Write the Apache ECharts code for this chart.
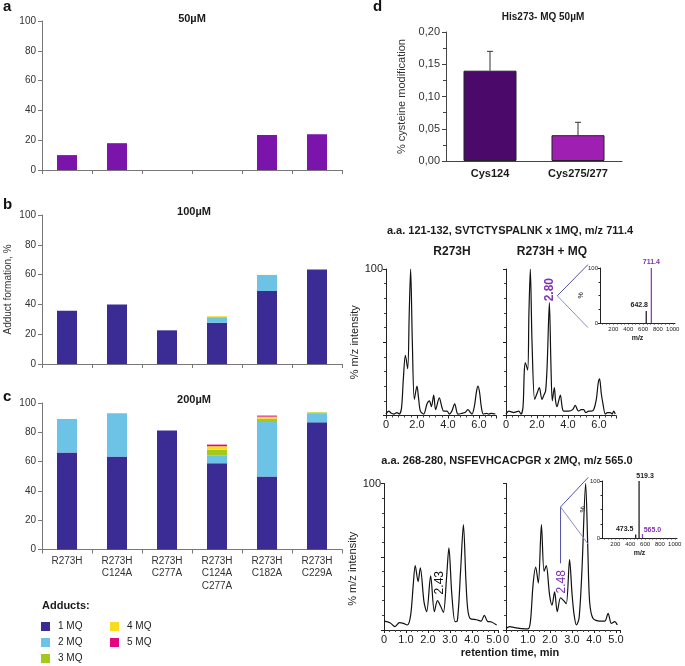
<!DOCTYPE html>
<html><head><meta charset="utf-8">
<script src="https://cdn.jsdelivr.net/npm/echarts@6/dist/echarts.min.js"></script>
<style>html,body{margin:0;padding:0;background:#fff}#c{width:685px;height:666px}</style>
</head><body><div id="c"></div>
<script>
// ---------- data ----------
const mutants = ['R273H', 'R273H\nC124A', 'R273H\nC277A', 'R273H\nC124A\nC277A', 'R273H\nC182A', 'R273H\nC229A'];
const adducts = ['1 MQ', '2 MQ', '3 MQ', '4 MQ', '5 MQ'];
const total50 = [10, 18, 0, 0, 23.5, 24];
const b1MQ = [35.8, 40, 22.6, 27.7, 49, 63.5];
const b2MQ = [0, 0, 0, 3.4, 10.1, 0];
const b3MQ = [0, 0, 0, 0.5, 0.7, 0];
const b4MQ = [0, 0, 0, 0.5, 0, 0];
const b5MQ = [0, 0, 0, 0, 0, 0];
const c1MQ = [66.2, 63.4, 81.2, 58.9, 49.8, 86.8];
const c2MQ = [22.9, 29.6, 0, 5.4, 37.2, 6.2];
const c3MQ = [0, 0, 0, 3.9, 2.3, 0.6];
const c4MQ = [0, 0, 0, 2.3, 1.4, 0];
const c5MQ = [0, 0, 0, 1.1, 0.7, 0];
const cysSites = ['Cys124', 'Cys275/277'];
const cysMod = [0.14, 0.04];
const cysErr = [0.03, 0.02];
// chromatograms: [retention time (min), % intensity]
const traceR273H_711 = [[0,1],[0.17,3],[0.35,1.5],[0.5,1],[0.71,2],[0.86,1],[1.0,5],[1.12,25],[1.25,41],[1.40,32],[1.50,70],[1.59,100],[1.70,50],[1.83,11],[2.0,20],[2.1,12],[2.22,3],[2.43,1],[2.65,8],[2.80,10],[2.93,6],[3.08,14],[3.2,4],[3.44,12],[3.60,6],[3.72,3],[3.94,3],[4.09,1],[4.25,3],[4.43,8],[4.58,2],[4.65,1],[4.91,1.5],[5.1,2],[5.29,4],[5.45,2],[5.55,1],[5.70,6],[5.85,17],[5.94,20],[6.05,15],[6.15,6],[6.28,1],[6.5,1.5],[6.63,1],[6.8,1.5],[7.06,1]];
const traceMQ_711 = [[0,1],[0.17,3],[0.35,2.5],[0.49,2],[0.65,2.5],[0.82,3],[0.97,1],[1.10,6],[1.18,30],[1.25,36],[1.40,31],[1.48,70],[1.57,100],[1.68,50],[1.85,11],[2.0,15],[2.15,19],[2.32,11],[2.45,14],[2.56,17],[2.66,35],[2.80,77],[2.90,35],[2.99,10],[3.12,19],[3.20,10],[3.29,6],[3.40,10],[3.51,14],[3.62,6],[3.72,3],[4.04,3],[4.3,4],[4.47,7],[4.6,4],[4.69,3],[4.85,4],[5.01,4],[5.15,2],[5.33,3],[5.5,3],[5.66,4],[5.83,11],[5.95,22],[6.04,25],[6.15,15],[6.26,8],[6.41,1],[6.55,2],[6.73,2],[6.85,1],[6.95,3],[7.05,1]];
const traceR273H_565 = [[0,6],[0.27,5],[0.5,2.3],[0.70,5],[0.88,4.5],[1.06,3.4],[1.21,10],[1.33,31],[1.42,44],[1.55,33],[1.65,42.5],[1.82,19],[1.94,12.5],[2.12,37],[2.29,12.5],[2.43,20],[2.58,16],[2.70,12],[2.84,35],[2.95,56],[3.08,25],[3.23,5.7],[3.33,6],[3.48,40],[3.61,72],[3.72,35],[3.80,15],[3.91,8],[4.21,7],[4.41,6],[4.56,10],[4.70,6],[4.89,5.5],[5.12,3.4]];
const traceMQ_565 = [[0,1],[0.17,2.3],[0.39,1.6],[0.70,1],[1.0,0.7],[1.11,5.7],[1.23,31],[1.35,43],[1.47,32],[1.61,72],[1.73,40],[1.83,44],[1.98,24],[2.09,17],[2.21,26],[2.33,12.5],[2.48,22],[2.62,20],[2.74,18],[2.89,48],[3.00,25],[3.09,11],[3.20,3.4],[3.32,8],[3.45,40],[3.62,100],[3.72,55],[3.80,19.5],[3.95,8],[4.26,6],[4.49,6],[4.64,11.4],[4.79,4.5],[4.94,5.7],[5.06,3.4]];
// MS insets: [m/z, % intensity]
const ms711 = [[642.8, 22], [711.4, 100]];
const ms565 = [[473.5, 6], [519.3, 100], [565.0, 7]];
const msTicks = [200, 400, 600, 800, 1000];

// ---------- style ----------
const FONT = '"Liberation Sans", Arial, Helvetica, sans-serif';
const adductColors = ['#3a2b95', '#6cc3e6', '#a3c91d', '#f7dc1f', '#e3087f'];
const purple = '#8232b4';
const bSets = [b1MQ, b2MQ, b3MQ, b4MQ, b5MQ];
const cSets = [c1MQ, c2MQ, c3MQ, c4MQ, c5MQ];

function catX(gi, showLabels) {
  return { type: 'category', gridIndex: gi, data: mutants,
    axisLine: { lineStyle: { color: '#777' } },
    axisTick: { show: true, length: 4, lineStyle: { color: '#777' } },
    axisLabel: { show: showLabels, fontSize: 10, color: '#333', lineHeight: 12.5, margin: 5, interval: 0 } };
}
function pctY(gi, name) {
  return { type: 'value', gridIndex: gi, min: 0, max: 100, interval: 20,
    axisLine: { show: true, lineStyle: { color: '#777' } },
    axisTick: { show: true, length: 4, lineStyle: { color: '#777' } },
    axisLabel: { fontSize: 10, color: '#333', margin: 6 }, splitLine: { show: false },
    name: name || '', nameLocation: 'middle', nameGap: 29, nameTextStyle: { fontSize: 10, color: '#333' } };
}
function chromX(gi, max, interval, split) {
  return { type: 'value', gridIndex: gi, min: 0, max: max, interval: interval,
    axisLine: { lineStyle: { color: '#222' } },
    axisTick: { length: 3, lineStyle: { color: '#222' } },
    minorTick: { show: true, splitNumber: split, length: 2, lineStyle: { color: '#444' } },
    axisLabel: { fontSize: 11, color: '#222', margin: 4, showMaxLabel: false,
      formatter: v => v === 0 ? '0' : v.toFixed(1) },
    splitLine: { show: false } };
}
function chromY(gi, labelled, name, pad) {
  return { type: 'value', gridIndex: gi, min: 0, max: 100, interval: 50,
    axisLine: { show: true, lineStyle: { color: '#222' } },
    axisTick: { show: true, length: 3, lineStyle: { color: '#222' } },
    minorTick: { show: true, splitNumber: 5, length: 2, lineStyle: { color: '#444' } },
    axisLabel: { fontSize: 11, color: '#222', margin: 3, formatter: v => (labelled && v === 100) ? '100' : '' },
    splitLine: { show: false },
    name: name || '', nameLocation: 'middle', nameGap: 9,
    nameTextStyle: { fontSize: 11, color: '#222', padding: pad || 0 } };
}
function msX(gi) {
  return { type: 'value', gridIndex: gi, min: 20, max: 1030,
    axisLine: { lineStyle: { color: '#222' } },
    axisTick: { length: 1.5, customValues: [50,100,150,200,250,300,350,400,450,500,550,600,650,700,750,800,850,900,950,1000], lineStyle: { color: '#333' } },
    axisLabel: { fontSize: 6, color: '#222', margin: 3, customValues: msTicks, formatter: v => String(v) },
    splitLine: { show: false },
    name: 'm/z', nameLocation: 'middle', nameGap: 12, nameTextStyle: { fontSize: 7, fontWeight: 'bold', color: '#222' } };
}
function msY(gi) {
  return { type: 'value', gridIndex: gi, min: 0, max: 100, interval: 100,
    axisLine: { show: true, lineStyle: { color: '#222' } },
    axisTick: { show: true, length: 2, lineStyle: { color: '#222' } },
    minorTick: { show: true, splitNumber: 4, length: 1.5 },
    axisLabel: { fontSize: 6, color: '#222', margin: 2 },
    splitLine: { show: false },
    name: '%', nameLocation: 'middle', nameGap: 4, nameTextStyle: { fontSize: 7, color: '#222' } };
}

const series = [];
series.push({ type: 'bar', name: '50µM', xAxisIndex: 0, yAxisIndex: 0, data: total50, barWidth: 20, itemStyle: { color: '#7a14aa' } });
adducts.forEach((a, i) => series.push({ type: 'bar', name: a, xAxisIndex: 1, yAxisIndex: 1, stack: 'b', data: bSets[i], barWidth: 20, itemStyle: { color: adductColors[i] } }));
adducts.forEach((a, i) => series.push({ type: 'bar', name: a, xAxisIndex: 2, yAxisIndex: 2, stack: 'c', data: cSets[i], barWidth: 20, itemStyle: { color: adductColors[i] } }));
const dColors = ['#4b0a6a', '#a01fb3'];
series.push({ type: 'bar', xAxisIndex: 3, yAxisIndex: 3, barWidth: 53,
  data: cysMod.map((v, i) => ({ value: v, itemStyle: { color: dColors[i] } })),
  itemStyle: { borderColor: '#222', borderWidth: 1 } });
series.push({ type: 'custom', xAxisIndex: 3, yAxisIndex: 3, z: 5,
  data: cysMod.map((v, i) => [i, v, v + cysErr[i]]),
  encode: { x: 0, y: [1, 2] },
  renderItem: (params, api) => {
    const p1 = api.coord([api.value(0), api.value(1)]);
    const p2 = api.coord([api.value(0), api.value(2)]);
    const st = { stroke: '#333', lineWidth: 1 };
    return { type: 'group', children: [
      { type: 'line', shape: { x1: p1[0], y1: p1[1], x2: p2[0], y2: p2[1] }, style: st },
      { type: 'line', shape: { x1: p2[0] - 3, y1: p2[1], x2: p2[0] + 3, y2: p2[1] }, style: st } ] };
  } });
const lineSeries = (xi, d) => ({ type: 'line', xAxisIndex: xi, yAxisIndex: xi, data: d, symbol: 'none', smooth: 0.3,
  lineStyle: { color: '#111', width: 1.2 } });
series.push(lineSeries(4, traceR273H_711));
series.push(lineSeries(5, traceMQ_711));
series.push({ type: 'bar', xAxisIndex: 6, yAxisIndex: 6, barWidth: 1.3,
  data: [
    { value: ms711[0], itemStyle: { color: '#222' }, label: { color: '#222', offset: [-7, 0] } },
    { value: ms711[1], itemStyle: { color: '#9040c0' }, label: { color: purple, offset: [0, 0] } } ],
  label: { show: true, position: 'top', distance: 2, fontSize: 7, fontWeight: 'bold', formatter: p => p.value[0].toFixed(1) } });
series.push(lineSeries(7, traceR273H_565));
series.push(lineSeries(8, traceMQ_565));
series.push({ type: 'bar', xAxisIndex: 9, yAxisIndex: 9, barWidth: 1.3,
  data: [
    { value: ms565[0], itemStyle: { color: '#222' }, label: { color: '#222', offset: [-11, 0] } },
    { value: ms565[1], itemStyle: { color: '#222' }, label: { color: '#222', offset: [6, 0], distance: 1 } },
    { value: ms565[2], itemStyle: { color: '#9040c0' }, label: { color: purple, offset: [10, 0], distance: 0 } } ],
  label: { show: true, position: 'top', distance: 2, fontSize: 7, fontWeight: 'bold', formatter: p => p.value[0].toFixed(1) } });

const legendBase = { orient: 'vertical', top: 621.5, itemWidth: 9, itemHeight: 9, itemGap: 6, padding: 0, icon: 'rect', selectedMode: false,
  textStyle: { fontSize: 10, color: '#222', lineHeight: 10, padding: [0, 0, 0, 3] } };

const option = {
  animation: false,
  textStyle: { fontFamily: FONT },
  grid: [
    { left: 42, top: 21, width: 300, height: 149 },
    { left: 42, top: 215, width: 300, height: 149 },
    { left: 42, top: 403, width: 300, height: 146.5 },
    { left: 446, top: 32, width: 176, height: 129 },
    { left: 386, top: 269, width: 110, height: 146.5 },
    { left: 506, top: 269, width: 110, height: 146.5 },
    { left: 600, top: 268, width: 75, height: 55 },
    { left: 384, top: 483.5, width: 114.4, height: 146.5 },
    { left: 506, top: 483.5, width: 114.4, height: 146.5 },
    { left: 602, top: 481, width: 75, height: 57 }
  ],
  xAxis: [
    catX(0, false), catX(1, false), catX(2, true),
    { type: 'category', gridIndex: 3, data: cysSites, axisLine: { lineStyle: { color: '#444' } }, axisTick: { show: false },
      axisLabel: { fontSize: 11, fontWeight: 'bold', color: '#1a1a1a', margin: 7 } },
    chromX(4, 7.1, 2, 5), chromX(5, 7.1, 2, 5), msX(6),
    chromX(7, 5.2, 1, 4), chromX(8, 5.2, 1, 4), msX(9)
  ],
  yAxis: [
    pctY(0), pctY(1, 'Adduct formation, %'), pctY(2),
    { type: 'value', gridIndex: 3, min: 0, max: 0.2, interval: 0.05,
      axisLine: { show: true, lineStyle: { color: '#444' } },
      axisTick: { show: true, length: 4, lineStyle: { color: '#444' } },
      minorTick: { show: true, splitNumber: 2, length: 3, lineStyle: { color: '#444' } },
      axisLabel: { fontSize: 11, color: '#333', margin: 6, formatter: v => v.toFixed(2).replace('.', ',') },
      splitLine: { show: false },
      name: '% cysteine modification', nameLocation: 'middle', nameGap: 39, nameTextStyle: { fontSize: 11, color: '#333' } },
    chromY(4, true, '% m/z intensity'), chromY(5, false), msY(6),
    chromY(7, true, '% m/z intensity', [0, 24, 0, 0]), chromY(8, false), msY(9)
  ],
  legend: [
    Object.assign({ data: adducts.slice(0, 3), left: 41 }, legendBase),
    Object.assign({ data: adducts.slice(3), left: 110 }, legendBase)
  ],
  series: series
};

const chart = echarts.init(document.getElementById('c'));
chart.setOption(option);

// ---------- annotations ----------
const txt = (x, y, text, font, fill, align, rot) => ({ type: 'text', x: x, y: y, rotation: rot || 0, z: 100,
  style: { x: 0, y: 0, text: text, font: font, fill: fill || '#1a1a1a', align: align || 'center', textAlign: align || 'center', verticalAlign: 'middle', textVerticalAlign: 'middle' } });
const B10 = 'bold 10px ' + FONT, B11 = 'bold 11px ' + FONT, B12 = 'bold 12px ' + FONT, B15 = 'bold 15px ' + FONT;
const px = (g, p) => chart.convertToPixel({ gridIndex: g }, p);
const poly = (pts, color) => ({ type: 'polyline', z: 90, shape: { points: pts }, style: { stroke: color, lineWidth: 1, fill: null } });

const g = [
  txt(3, 7, 'a', B15, '#111', 'left'),
  txt(3, 205, 'b', B15, '#111', 'left'),
  txt(3, 397, 'c', B15, '#111', 'left'),
  txt(373, 7, 'd', B15, '#111', 'left'),
  txt(192, 19, '50µM', B11),
  txt(194, 212, '100µM', B11),
  txt(194, 400, '200µM', B11),
  txt(42, 606, 'Adducts:', B11, '#1a1a1a', 'left'),
  txt(543, 17, 'His273- MQ 50µM', B10),
  txt(510, 231, 'a.a. 121-132, SVTCTYSPALNK x 1MQ, m/z 711.4', B11),
  txt(452, 252, 'R273H', B12),
  txt(552, 252, 'R273H + MQ', B12),
  txt(507, 461, 'a.a. 268-280, NSFEVHCACPGR x 2MQ, m/z 565.0', B11),
  txt(510, 653, 'retention time, min', B11)
];
// callout to MS inset, upper chromatogram (peak 2.80)
const pk1 = px(5, [2.80, 77]);
g.push(txt(pk1[0], pk1[1] - 13, '2.80', B12, purple, 'center', Math.PI / 2));
const v1 = px(5, [3.31, 81.7]), u1 = px(5, [5.29, 103]), l1 = px(5, [5.29, 60]);
g.push(poly([v1, u1], '#5050a8'));
g.push(poly([v1, l1], '#8c8cc4'));
// lower chromatograms (peaks 2.43 and 2.48)
const pk3 = px(7, [2.43, 20]);
g.push(txt(pk3[0] + 2, pk3[1] - 18, '2.43', '12px ' + FONT, '#111', 'center', Math.PI / 2));
const pk4 = px(8, [2.48, 22]);
g.push(txt(pk4[0] + 1, pk4[1] - 16, '2.48', '12px ' + FONT, purple, 'center', Math.PI / 2));
const v2 = px(8, [2.48, 84]), s2 = px(8, [2.48, 45.5]), u2 = px(8, [3.74, 104.2]), l2 = px(8, [3.74, 58.5]);
g.push(poly([s2, v2, u2], '#5050a8'));
g.push(poly([v2, l2], '#8c8cc4'));
chart.setOption({ graphic: g });
</script>
</body></html>
